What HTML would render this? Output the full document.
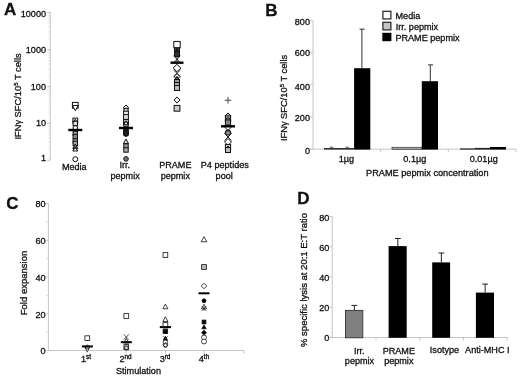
<!DOCTYPE html>
<html><head><meta charset="utf-8"><title>Figure</title>
<style>
html,body{margin:0;padding:0;background:#fff;}
svg{display:block;font-family:"Liberation Sans",sans-serif;fill:#111;}
text{stroke:#111;stroke-width:0.3px;}
</style></head><body>
<svg width="520" height="376" viewBox="0 0 520 376">
<rect x="0" y="0" width="520" height="376" fill="#fff"/>
<text x="4" y="15" font-size="17" text-anchor="start" font-weight="bold" >A</text>
<line x1="50.2" y1="11.7" x2="50.2" y2="160" stroke="#c6c6c6" stroke-width="1"/>
<line x1="47.2" y1="160.2" x2="50.2" y2="160.2" stroke="#c6c6c6" stroke-width="1"/>
<text x="46" y="160.55" font-size="9.1" text-anchor="end" font-weight="normal" >1</text>
<line x1="48.400000000000006" y1="149.09199315999908" x2="50.2" y2="149.09199315999908" stroke="#d4d4d4" stroke-width="0.7"/>
<line x1="48.400000000000006" y1="142.59422570084445" x2="50.2" y2="142.59422570084445" stroke="#d4d4d4" stroke-width="0.7"/>
<line x1="48.400000000000006" y1="137.98398631999817" x2="50.2" y2="137.98398631999817" stroke="#d4d4d4" stroke-width="0.7"/>
<line x1="48.400000000000006" y1="134.4080068400009" x2="50.2" y2="134.4080068400009" stroke="#d4d4d4" stroke-width="0.7"/>
<line x1="48.400000000000006" y1="131.48621886084354" x2="50.2" y2="131.48621886084354" stroke="#d4d4d4" stroke-width="0.7"/>
<line x1="48.400000000000006" y1="129.0158823234739" x2="50.2" y2="129.0158823234739" stroke="#d4d4d4" stroke-width="0.7"/>
<line x1="48.400000000000006" y1="126.87597947999728" x2="50.2" y2="126.87597947999728" stroke="#d4d4d4" stroke-width="0.7"/>
<line x1="48.400000000000006" y1="124.9884514016889" x2="50.2" y2="124.9884514016889" stroke="#d4d4d4" stroke-width="0.7"/>
<line x1="47.2" y1="123.29999999999998" x2="50.2" y2="123.29999999999998" stroke="#c6c6c6" stroke-width="1"/>
<text x="46" y="125.55" font-size="9.1" text-anchor="end" font-weight="normal" >10</text>
<line x1="48.400000000000006" y1="112.19199315999907" x2="50.2" y2="112.19199315999907" stroke="#d4d4d4" stroke-width="0.7"/>
<line x1="48.400000000000006" y1="105.69422570084444" x2="50.2" y2="105.69422570084444" stroke="#d4d4d4" stroke-width="0.7"/>
<line x1="48.400000000000006" y1="101.08398631999817" x2="50.2" y2="101.08398631999817" stroke="#d4d4d4" stroke-width="0.7"/>
<line x1="48.400000000000006" y1="97.50800684000089" x2="50.2" y2="97.50800684000089" stroke="#d4d4d4" stroke-width="0.7"/>
<line x1="48.400000000000006" y1="94.58621886084353" x2="50.2" y2="94.58621886084353" stroke="#d4d4d4" stroke-width="0.7"/>
<line x1="48.400000000000006" y1="92.11588232347391" x2="50.2" y2="92.11588232347391" stroke="#d4d4d4" stroke-width="0.7"/>
<line x1="48.400000000000006" y1="89.97597947999728" x2="50.2" y2="89.97597947999728" stroke="#d4d4d4" stroke-width="0.7"/>
<line x1="48.400000000000006" y1="88.0884514016889" x2="50.2" y2="88.0884514016889" stroke="#d4d4d4" stroke-width="0.7"/>
<line x1="47.2" y1="86.39999999999999" x2="50.2" y2="86.39999999999999" stroke="#c6c6c6" stroke-width="1"/>
<text x="46" y="89.85" font-size="9.1" text-anchor="end" font-weight="normal" >100</text>
<line x1="48.400000000000006" y1="75.29199315999908" x2="50.2" y2="75.29199315999908" stroke="#d4d4d4" stroke-width="0.7"/>
<line x1="48.400000000000006" y1="68.79422570084445" x2="50.2" y2="68.79422570084445" stroke="#d4d4d4" stroke-width="0.7"/>
<line x1="48.400000000000006" y1="64.18398631999818" x2="50.2" y2="64.18398631999818" stroke="#d4d4d4" stroke-width="0.7"/>
<line x1="48.400000000000006" y1="60.6080068400009" x2="50.2" y2="60.6080068400009" stroke="#d4d4d4" stroke-width="0.7"/>
<line x1="48.400000000000006" y1="57.68621886084354" x2="50.2" y2="57.68621886084354" stroke="#d4d4d4" stroke-width="0.7"/>
<line x1="48.400000000000006" y1="55.21588232347392" x2="50.2" y2="55.21588232347392" stroke="#d4d4d4" stroke-width="0.7"/>
<line x1="48.400000000000006" y1="53.07597947999728" x2="50.2" y2="53.07597947999728" stroke="#d4d4d4" stroke-width="0.7"/>
<line x1="48.400000000000006" y1="51.18845140168891" x2="50.2" y2="51.18845140168891" stroke="#d4d4d4" stroke-width="0.7"/>
<line x1="47.2" y1="49.5" x2="50.2" y2="49.5" stroke="#c6c6c6" stroke-width="1"/>
<text x="46" y="52.65" font-size="9.1" text-anchor="end" font-weight="normal" >1000</text>
<line x1="48.400000000000006" y1="38.391993159999096" x2="50.2" y2="38.391993159999096" stroke="#d4d4d4" stroke-width="0.7"/>
<line x1="48.400000000000006" y1="31.89422570084446" x2="50.2" y2="31.89422570084446" stroke="#d4d4d4" stroke-width="0.7"/>
<line x1="48.400000000000006" y1="27.28398631999819" x2="50.2" y2="27.28398631999819" stroke="#d4d4d4" stroke-width="0.7"/>
<line x1="48.400000000000006" y1="23.708006840000905" x2="50.2" y2="23.708006840000905" stroke="#d4d4d4" stroke-width="0.7"/>
<line x1="48.400000000000006" y1="20.78621886084355" x2="50.2" y2="20.78621886084355" stroke="#d4d4d4" stroke-width="0.7"/>
<line x1="48.400000000000006" y1="18.315882323473925" x2="50.2" y2="18.315882323473925" stroke="#d4d4d4" stroke-width="0.7"/>
<line x1="48.400000000000006" y1="16.175979479997288" x2="50.2" y2="16.175979479997288" stroke="#d4d4d4" stroke-width="0.7"/>
<line x1="48.400000000000006" y1="14.288451401688917" x2="50.2" y2="14.288451401688917" stroke="#d4d4d4" stroke-width="0.7"/>
<line x1="47.2" y1="12.599999999999994" x2="50.2" y2="12.599999999999994" stroke="#c6c6c6" stroke-width="1"/>
<text x="46" y="17.35" font-size="9.1" text-anchor="end" font-weight="normal" >10000</text>
<text transform="translate(20.5,96.5) rotate(-90)" font-size="9.3" text-anchor="middle">IFNγ SFC/10<tspan font-size="6" dy="-3">5</tspan><tspan dy="3"> T cells</tspan></text>
<rect x="72.42" y="102.42" width="5.76" height="5.76" fill="#fff" stroke="#111" stroke-width="1.0"/>
<polygon points="75.3,110.67999999999999 78.17999999999999,105.496 72.42,105.496" fill="#fff" stroke="#111" stroke-width="1.0"/>
<rect x="72.89999999999999" y="118.1" width="4.8" height="4.8" fill="#e8e8e8" stroke="#111" stroke-width="1.0"/>
<polygon points="75.3,119.292 77.508,123.2664 73.092,123.2664" fill="#fff" stroke="#111" stroke-width="1.0"/>
<rect x="73.092" y="121.292" width="4.4159999999999995" height="4.4159999999999995" fill="#ddd" stroke="#111" stroke-width="1.0"/>
<circle cx="75.3" cy="128" r="2.304" fill="#fff" stroke="#111" stroke-width="1.0"/>
<rect x="73.092" y="131.292" width="4.4159999999999995" height="4.4159999999999995" fill="#999" stroke="#111" stroke-width="1.0"/>
<rect x="73.092" y="134.292" width="4.4159999999999995" height="4.4159999999999995" fill="#888" stroke="#111" stroke-width="1.0"/>
<rect x="73.092" y="138.792" width="4.4159999999999995" height="4.4159999999999995" fill="#999" stroke="#111" stroke-width="1.0"/>
<rect x="73.092" y="141.292" width="4.4159999999999995" height="4.4159999999999995" fill="#aaa" stroke="#111" stroke-width="1.0"/>
<polygon points="75.3,144.004 77.79599999999999,148.4968 72.804,148.4968" fill="#ddd" stroke="#111" stroke-width="1.0"/>
<polygon points="75.3,146.504 77.79599999999999,150.9968 72.804,150.9968" fill="#fff" stroke="#111" stroke-width="1.0"/>
<path d="M73.38,146.08L77.22,149.92M73.38,149.92L77.22,146.08" stroke="#222" stroke-width="1.0" fill="none"/>
<circle cx="75.3" cy="159.2" r="2.496" fill="#fff" stroke="#111" stroke-width="1.0"/>
<line x1="68.3" y1="130" x2="82.3" y2="130" stroke="#000" stroke-width="2.4"/>
<polygon points="126,105.012 128.688,107.7 126,110.388 123.312,107.7" fill="#ddd" stroke="#111" stroke-width="1.0"/>
<rect x="123.888" y="108.388" width="4.224" height="4.224" fill="#ccc" stroke="#111" stroke-width="1.0"/>
<rect x="123.6" y="111.19999999999999" width="4.8" height="4.8" fill="#eee" stroke="#111" stroke-width="1.0"/>
<rect x="123.6" y="114.6" width="4.8" height="4.8" fill="#ddd" stroke="#111" stroke-width="1.0"/>
<rect x="123.6" y="119.6" width="4.8" height="4.8" fill="#ccc" stroke="#111" stroke-width="1.0"/>
<rect x="123.792" y="122.292" width="4.4159999999999995" height="4.4159999999999995" fill="#bbb" stroke="#111" stroke-width="1.0"/>
<polygon points="126,120.888 128.112,124.6896 123.888,124.6896" fill="#fff" stroke="#111" stroke-width="1.0"/>
<rect x="123.696" y="129.196" width="4.608" height="4.608" fill="#222" stroke="#111" stroke-width="1.0"/>
<circle cx="126" cy="134" r="2.4" fill="#111" stroke="#111" stroke-width="1.0"/>
<rect x="123.888" y="130.888" width="4.224" height="4.224" fill="#222" stroke="#111" stroke-width="1.0"/>
<polygon points="126,139.004 128.496,143.4968 123.504,143.4968" fill="#ddd" stroke="#111" stroke-width="1.0"/>
<rect x="123.792" y="143.792" width="4.4159999999999995" height="4.4159999999999995" fill="#999" stroke="#111" stroke-width="1.0"/>
<rect x="123.792" y="147.792" width="4.4159999999999995" height="4.4159999999999995" fill="#aaa" stroke="#111" stroke-width="1.0"/>
<circle cx="126" cy="158.9" r="2.304" fill="#777" stroke="#111" stroke-width="1.0"/>
<line x1="119" y1="128" x2="133" y2="128" stroke="#000" stroke-width="2.4"/>
<rect x="173.832" y="41.432" width="6.335999999999999" height="6.335999999999999" fill="#fff" stroke="#111" stroke-width="1.0"/>
<rect x="174.504" y="48.004" width="4.992" height="4.992" fill="#555" stroke="#111" stroke-width="1.0"/>
<polygon points="177,48.504 179.496,52.9968 174.504,52.9968" fill="#333" stroke="#111" stroke-width="1.0"/>
<rect x="174.504" y="51.504" width="4.992" height="4.992" fill="#333" stroke="#111" stroke-width="1.0"/>
<path d="M173.544,55.843999999999994L180.456,62.756M173.544,62.756L180.456,55.843999999999994M177,55.843999999999994L177,62.756" stroke="#222" stroke-width="1.0" fill="none"/>
<polygon points="177,64.256 180.744,68 177,71.744 173.256,68" fill="#fff" stroke="#111" stroke-width="1.0"/>
<path d="M173.544,69.844L180.456,76.756M173.544,76.756L180.456,69.844" stroke="#222" stroke-width="1.0" fill="none"/>
<polygon points="177,73.62 179.88,76.5 177,79.38 174.12,76.5" fill="#eee" stroke="#111" stroke-width="1.0"/>
<polygon points="177,76.408 179.592,81.0736 174.408,81.0736" fill="#888" stroke="#111" stroke-width="1.0"/>
<circle cx="177" cy="80" r="2.304" fill="#777" stroke="#111" stroke-width="1.0"/>
<rect x="174.504" y="79.504" width="4.992" height="4.992" fill="#999" stroke="#111" stroke-width="1.0"/>
<rect x="174.504" y="82.504" width="4.992" height="4.992" fill="#aaa" stroke="#111" stroke-width="1.0"/>
<rect x="174.504" y="85.504" width="4.992" height="4.992" fill="#bbb" stroke="#111" stroke-width="1.0"/>
<polygon points="177,96.928 180.072,100 177,103.072 173.928,100" fill="#eee" stroke="#111" stroke-width="1.0"/>
<rect x="174.12" y="105.42" width="5.76" height="5.76" fill="#ccc" stroke="#111" stroke-width="1.0"/>
<line x1="170.5" y1="62.7" x2="183.5" y2="62.7" stroke="#000" stroke-width="2.4"/>
<path d="M224.64,100.2L231.36,100.2M228,96.84L228,103.56" stroke="#444" stroke-width="1.0" fill="none"/>
<polygon points="228,112.928 231.072,116 228,119.072 224.928,116" fill="#bbb" stroke="#111" stroke-width="1.0"/>
<rect x="225.408" y="115.908" width="5.184" height="5.184" fill="#aaa" stroke="#111" stroke-width="1.0"/>
<circle cx="228" cy="120.5" r="2.592" fill="#999" stroke="#111" stroke-width="1.0"/>
<rect x="225.408" y="119.908" width="5.184" height="5.184" fill="#888" stroke="#111" stroke-width="1.0"/>
<circle cx="228" cy="132.5" r="2.6879999999999997" fill="#999" stroke="#111" stroke-width="1.0"/>
<path d="M224.544,127.044L231.456,133.956M224.544,133.956L231.456,127.044" stroke="#222" stroke-width="1.0" fill="none"/>
<path d="M224.544,133.544L231.456,140.456M224.544,140.456L231.456,133.544" stroke="#222" stroke-width="1.0" fill="none"/>
<polygon points="228,138.544 231.456,142 228,145.456 224.544,142" fill="#fff" stroke="#111" stroke-width="1.0"/>
<rect x="225.408" y="144.408" width="5.184" height="5.184" fill="#ccc" stroke="#111" stroke-width="1.0"/>
<polygon points="228,145.908 230.592,150.5736 225.408,150.5736" fill="#ddd" stroke="#111" stroke-width="1.0"/>
<rect x="225.504" y="147.504" width="4.992" height="4.992" fill="#bbb" stroke="#111" stroke-width="1.0"/>
<line x1="221" y1="126.3" x2="235" y2="126.3" stroke="#000" stroke-width="2.4"/>
<text x="74.3" y="169.7" font-size="9.1" text-anchor="middle" font-weight="normal" >Media</text>
<text x="124.8" y="168" font-size="9.1" text-anchor="middle" font-weight="normal" >Irr.</text>
<text x="125.1" y="178.9" font-size="9.1" text-anchor="middle" font-weight="normal" >pepmix</text>
<text x="175.3" y="167.5" font-size="9.1" text-anchor="middle" font-weight="normal" >PRAME</text>
<text x="175.3" y="178.9" font-size="9.1" text-anchor="middle" font-weight="normal" >pepmix</text>
<text x="224.8" y="167.5" font-size="9.1" text-anchor="middle" font-weight="normal" >P4 peptides</text>
<text x="224.2" y="178.9" font-size="9.1" text-anchor="middle" font-weight="normal" >pool</text>
<text x="265.2" y="16.4" font-size="17" text-anchor="start" font-weight="bold" >B</text>
<line x1="313" y1="20.5" x2="313" y2="149.2" stroke="#c6c6c6" stroke-width="1"/>
<line x1="310" y1="149.2" x2="516" y2="149.2" stroke="#c6c6c6" stroke-width="1"/>
<line x1="310" y1="149.2" x2="313" y2="149.2" stroke="#c6c6c6" stroke-width="1"/>
<text x="310" y="154.25" font-size="9.1" text-anchor="end" font-weight="normal" >0</text>
<line x1="310" y1="116.99999999999999" x2="313" y2="116.99999999999999" stroke="#c6c6c6" stroke-width="1"/>
<text x="310" y="121.25" font-size="9.1" text-anchor="end" font-weight="normal" >200</text>
<line x1="310" y1="84.79999999999998" x2="313" y2="84.79999999999998" stroke="#c6c6c6" stroke-width="1"/>
<text x="310" y="90.25" font-size="9.1" text-anchor="end" font-weight="normal" >400</text>
<line x1="310" y1="52.59999999999998" x2="313" y2="52.59999999999998" stroke="#c6c6c6" stroke-width="1"/>
<text x="310" y="56.05" font-size="9.1" text-anchor="end" font-weight="normal" >600</text>
<line x1="310" y1="20.399999999999977" x2="313" y2="20.399999999999977" stroke="#c6c6c6" stroke-width="1"/>
<text x="310" y="25.45" font-size="9.1" text-anchor="end" font-weight="normal" >800</text>
<line x1="380.7" y1="149.2" x2="380.7" y2="152.2" stroke="#c6c6c6" stroke-width="1"/>
<line x1="448.3" y1="149.2" x2="448.3" y2="152.2" stroke="#c6c6c6" stroke-width="1"/>
<line x1="516" y1="149.2" x2="516" y2="152.2" stroke="#c6c6c6" stroke-width="1"/>
<text transform="translate(286.5,98) rotate(-90)" font-size="9.3" text-anchor="middle">IFNγ SFC/10<tspan font-size="6" dy="-3">5</tspan><tspan dy="3"> T cells</tspan></text>
<rect x="382.9" y="11.3" width="8.0" height="7.6" fill="#fff" stroke="#222" stroke-width="1.2"/>
<rect x="382.9" y="22.3" width="8.0" height="7.6" fill="#c4c4c4" stroke="#222" stroke-width="1.2"/>
<rect x="382.3" y="32.8" width="9.1" height="8.4" fill="#000" stroke="none" stroke-width="1"/>
<text x="395.5" y="19" font-size="9.1" text-anchor="start" font-weight="normal" >Media</text>
<text x="395.7" y="30" font-size="9.1" text-anchor="start" font-weight="normal" >Irr. pepmix</text>
<text x="395.4" y="40.9" font-size="9.1" text-anchor="start" font-weight="normal" >PRAME pepmix</text>
<rect x="324" y="148" width="30" height="1.6" fill="#333" stroke="none" stroke-width="1"/>
<line x1="331.5" y1="147" x2="331.5" y2="148" stroke="#333" stroke-width="1"/>
<line x1="347.3" y1="147" x2="347.3" y2="148" stroke="#333" stroke-width="1"/>
<line x1="329.5" y1="147.2" x2="333.5" y2="147.2" stroke="#555" stroke-width="0.8"/>
<line x1="345.3" y1="147.2" x2="349.3" y2="147.2" stroke="#555" stroke-width="0.8"/>
<rect x="354.1" y="68.2" width="16.2" height="81.4" fill="#000" stroke="none" stroke-width="1"/>
<line x1="361.9" y1="28.9" x2="361.9" y2="68.2" stroke="#333" stroke-width="1"/>
<line x1="359.6" y1="29.2" x2="364.6" y2="29.2" stroke="#333" stroke-width="1"/>
<rect x="392" y="147.3" width="30" height="2" fill="#aaa" stroke="#333" stroke-width="0.7"/>
<rect x="421.8" y="81.2" width="16.2" height="68.4" fill="#000" stroke="none" stroke-width="1"/>
<line x1="430.3" y1="64.6" x2="430.3" y2="81.2" stroke="#333" stroke-width="1"/>
<line x1="428" y1="64.9" x2="433" y2="64.9" stroke="#333" stroke-width="1"/>
<rect x="460" y="148.4" width="15" height="1.2" fill="#222" stroke="none" stroke-width="1"/>
<rect x="475" y="147.9" width="15" height="1.7" fill="#222" stroke="none" stroke-width="1"/>
<rect x="490" y="147" width="16" height="2.6" fill="#000" stroke="none" stroke-width="1"/>
<text x="346.5" y="162.1" font-size="9.1" text-anchor="middle" font-weight="normal" >1µg</text>
<text x="414.8" y="162.1" font-size="9.1" text-anchor="middle" font-weight="normal" >0.1µg</text>
<text x="483.7" y="162.1" font-size="9.1" text-anchor="middle" font-weight="normal" >0.01µg</text>
<text x="427.3" y="176.1" font-size="9.2" text-anchor="middle" font-weight="normal" >PRAME pepmix concentration</text>
<text x="6.2" y="208.7" font-size="17" text-anchor="start" font-weight="bold" >C</text>
<line x1="48.4" y1="203.1" x2="48.4" y2="350.5" stroke="#c6c6c6" stroke-width="1"/>
<line x1="45.4" y1="350.5" x2="244" y2="350.5" stroke="#c6c6c6" stroke-width="1"/>
<line x1="45.4" y1="350.5" x2="48.4" y2="350.5" stroke="#c6c6c6" stroke-width="1"/>
<text x="45.6" y="354.35" font-size="9.1" text-anchor="end" font-weight="normal" >0</text>
<line x1="46.4" y1="332.125" x2="48.4" y2="332.125" stroke="#d4d4d4" stroke-width="1"/>
<line x1="45.4" y1="313.75" x2="48.4" y2="313.75" stroke="#c6c6c6" stroke-width="1"/>
<text x="45.6" y="317.6" font-size="9.1" text-anchor="end" font-weight="normal" >20</text>
<line x1="46.4" y1="295.375" x2="48.4" y2="295.375" stroke="#d4d4d4" stroke-width="1"/>
<line x1="45.4" y1="277.0" x2="48.4" y2="277.0" stroke="#c6c6c6" stroke-width="1"/>
<text x="45.6" y="280.85" font-size="9.1" text-anchor="end" font-weight="normal" >40</text>
<line x1="46.4" y1="258.625" x2="48.4" y2="258.625" stroke="#d4d4d4" stroke-width="1"/>
<line x1="45.4" y1="240.25" x2="48.4" y2="240.25" stroke="#c6c6c6" stroke-width="1"/>
<text x="45.6" y="244.1" font-size="9.1" text-anchor="end" font-weight="normal" >60</text>
<line x1="46.4" y1="221.875" x2="48.4" y2="221.875" stroke="#d4d4d4" stroke-width="1"/>
<line x1="45.4" y1="203.5" x2="48.4" y2="203.5" stroke="#c6c6c6" stroke-width="1"/>
<text x="45.6" y="207.35" font-size="9.1" text-anchor="end" font-weight="normal" >80</text>
<line x1="87" y1="350.5" x2="87" y2="353.5" stroke="#c6c6c6" stroke-width="1"/>
<line x1="126" y1="350.5" x2="126" y2="353.5" stroke="#c6c6c6" stroke-width="1"/>
<line x1="165.5" y1="350.5" x2="165.5" y2="353.5" stroke="#c6c6c6" stroke-width="1"/>
<line x1="204" y1="350.5" x2="204" y2="353.5" stroke="#c6c6c6" stroke-width="1"/>
<line x1="244" y1="350.5" x2="244" y2="353.5" stroke="#c6c6c6" stroke-width="1"/>
<text transform="translate(26.5,283) rotate(-90)" font-size="9.5" text-anchor="middle">Fold expansion</text>
<rect x="84.925" y="335.825" width="4.75" height="4.75" fill="#fff" stroke="#111" stroke-width="0.8"/>
<polygon points="87.3,351.66 89.96,346.872 84.64,346.872" fill="#fff" stroke="#111" stroke-width="0.8"/>
<line x1="81.8" y1="346.4" x2="92.8" y2="346.4" stroke="#000" stroke-width="2.0"/>
<circle cx="87.3" cy="347" r="1.9" fill="none" stroke="#111" stroke-width="0.8"/>
<rect x="123.925" y="313.625" width="4.75" height="4.75" fill="#fff" stroke="#111" stroke-width="0.8"/>
<path d="M123.64,334.34L128.96,339.66M123.64,339.66L128.96,334.34" stroke="#222" stroke-width="0.8" fill="none"/>
<polygon points="126.3,338.435 128.865,343.052 123.735,343.052" fill="#fff" stroke="#111" stroke-width="0.8"/>
<rect x="123.925" y="344.625" width="4.75" height="4.75" fill="#ccc" stroke="#111" stroke-width="0.8"/>
<circle cx="126.3" cy="348" r="2.09" fill="none" stroke="#111" stroke-width="0.8"/>
<line x1="120.8" y1="342.2" x2="131.8" y2="342.2" stroke="#000" stroke-width="2.0"/>
<rect x="163.025" y="252.625" width="4.75" height="4.75" fill="#fff" stroke="#111" stroke-width="0.8"/>
<polygon points="165.4,304.135 167.965,308.752 162.835,308.752" fill="#fff" stroke="#111" stroke-width="0.8"/>
<polygon points="165.4,316.835 167.965,321.452 162.835,321.452" fill="#fff" stroke="#111" stroke-width="0.8"/>
<rect x="163.025" y="322.625" width="4.75" height="4.75" fill="#fff" stroke="#111" stroke-width="0.8"/>
<rect x="163.12" y="329.02000000000004" width="4.56" height="4.56" fill="#000" stroke="#111" stroke-width="0.8"/>
<rect x="164.64000000000001" y="329.24" width="1.52" height="1.52" fill="#fff" stroke="#111" stroke-width="0.8"/>
<polygon points="165.4,336.31 167.49,340.072 163.31,340.072" fill="#000" stroke="#111" stroke-width="0.8"/>
<path d="M163.12,336.32000000000005L167.68,340.88M163.12,340.88L167.68,336.32000000000005M165.4,336.32000000000005L165.4,340.88" stroke="#222" stroke-width="0.8" fill="none"/>
<circle cx="165.4" cy="342.4" r="2.28" fill="#fff" stroke="#111" stroke-width="0.8"/>
<polygon points="165.4,342.33 167.87,344.8 165.4,347.27000000000004 162.93,344.8" fill="#fff" stroke="#111" stroke-width="0.8"/>
<circle cx="165.4" cy="345.5" r="1.9" fill="none" stroke="#111" stroke-width="0.8"/>
<line x1="159.8" y1="327.1" x2="171.0" y2="327.1" stroke="#000" stroke-width="2.0"/>
<polygon points="204,236.65 206.85,241.78 201.15,241.78" fill="#fff" stroke="#111" stroke-width="0.8"/>
<rect x="201.625" y="264.625" width="4.75" height="4.75" fill="#bbb" stroke="#111" stroke-width="0.8"/>
<polygon points="204,283.245 206.755,286 204,288.755 201.245,286" fill="#fff" stroke="#111" stroke-width="0.8"/>
<line x1="198.5" y1="293.3" x2="209.5" y2="293.3" stroke="#000" stroke-width="2.0"/>
<circle cx="204" cy="300.8" r="1.9949999999999999" fill="#000" stroke="#111" stroke-width="0.8"/>
<polygon points="204,304.235 206.565,308.85200000000003 201.435,308.85200000000003" fill="#fff" stroke="#111" stroke-width="0.8"/>
<path d="M201.72,306.22L206.28,310.78M201.72,310.78L206.28,306.22M204,306.22L204,310.78" stroke="#222" stroke-width="0.8" fill="none"/>
<rect x="202.1" y="320.1" width="3.8" height="3.8" fill="#000" stroke="#111" stroke-width="0.8"/>
<polygon points="204,324.915 206.185,328.848 201.815,328.848" fill="#000" stroke="#111" stroke-width="0.8"/>
<polygon points="204,330.22999999999996 206.47,332.7 204,335.17 201.53,332.7" fill="#000" stroke="#111" stroke-width="0.8"/>
<circle cx="204" cy="337.5" r="2.4699999999999998" fill="#fff" stroke="#111" stroke-width="0.8"/>
<circle cx="204" cy="341.5" r="2.4699999999999998" fill="#fff" stroke="#111" stroke-width="0.8"/>
<text x="86" y="362.2" font-size="9.1" text-anchor="middle">1<tspan font-size="6.4" dy="-3.3">st</tspan></text>
<text x="125.5" y="362.2" font-size="9.1" text-anchor="middle">2<tspan font-size="6.4" dy="-3.3">nd</tspan></text>
<text x="165" y="362.2" font-size="9.1" text-anchor="middle">3<tspan font-size="6.4" dy="-3.3">rd</tspan></text>
<text x="204" y="362.2" font-size="9.1" text-anchor="middle">4<tspan font-size="6.4" dy="-3.3">th</tspan></text>
<text x="138.5" y="374" font-size="9.1" text-anchor="middle" font-weight="normal" >Stimulation</text>
<text x="297.2" y="203.5" font-size="17" text-anchor="start" font-weight="bold" >D</text>
<line x1="332.2" y1="216" x2="332.2" y2="337.5" stroke="#c6c6c6" stroke-width="1"/>
<line x1="329.2" y1="337.5" x2="507.3" y2="337.5" stroke="#c6c6c6" stroke-width="1"/>
<line x1="329.2" y1="337.5" x2="332.2" y2="337.5" stroke="#c6c6c6" stroke-width="1"/>
<text x="329.4" y="340.95" font-size="9.1" text-anchor="end" font-weight="normal" >0</text>
<line x1="329.2" y1="307.25" x2="332.2" y2="307.25" stroke="#c6c6c6" stroke-width="1"/>
<text x="329.4" y="310.95" font-size="9.1" text-anchor="end" font-weight="normal" >20</text>
<line x1="329.2" y1="277.0" x2="332.2" y2="277.0" stroke="#c6c6c6" stroke-width="1"/>
<text x="329.4" y="280.95" font-size="9.1" text-anchor="end" font-weight="normal" >40</text>
<line x1="329.2" y1="246.75" x2="332.2" y2="246.75" stroke="#c6c6c6" stroke-width="1"/>
<text x="329.4" y="250.95" font-size="9.1" text-anchor="end" font-weight="normal" >60</text>
<line x1="329.2" y1="216.5" x2="332.2" y2="216.5" stroke="#c6c6c6" stroke-width="1"/>
<text x="329.4" y="220.95" font-size="9.1" text-anchor="end" font-weight="normal" >80</text>
<line x1="376" y1="337.5" x2="376" y2="340.5" stroke="#c6c6c6" stroke-width="1"/>
<line x1="419.7" y1="337.5" x2="419.7" y2="340.5" stroke="#c6c6c6" stroke-width="1"/>
<line x1="463.5" y1="337.5" x2="463.5" y2="340.5" stroke="#c6c6c6" stroke-width="1"/>
<line x1="507.3" y1="337.5" x2="507.3" y2="340.5" stroke="#c6c6c6" stroke-width="1"/>
<text transform="translate(306.5,280) rotate(-90)" font-size="9.5" text-anchor="middle">% specific lysis at 20:1 E:T ratio</text>
<rect x="345.5" y="310.4" width="17.30000000000001" height="27.400000000000034" fill="#808080" stroke="#333" stroke-width="0.9"/>
<line x1="354.34999999999997" y1="305.1" x2="354.34999999999997" y2="310.4" stroke="#222" stroke-width="1"/>
<line x1="351.45" y1="305.40000000000003" x2="357.24999999999994" y2="305.40000000000003" stroke="#222" stroke-width="1"/>
<rect x="388.6" y="246.1" width="18.099999999999966" height="91.70000000000002" fill="#000" stroke="none" stroke-width="0.9"/>
<line x1="397.84999999999997" y1="238.2" x2="397.84999999999997" y2="246.1" stroke="#222" stroke-width="1"/>
<line x1="394.95" y1="238.5" x2="400.74999999999994" y2="238.5" stroke="#222" stroke-width="1"/>
<rect x="432.2" y="262.4" width="17.900000000000034" height="75.40000000000003" fill="#000" stroke="none" stroke-width="0.9"/>
<line x1="441.34999999999997" y1="252.7" x2="441.34999999999997" y2="262.4" stroke="#222" stroke-width="1"/>
<line x1="438.45" y1="253.0" x2="444.24999999999994" y2="253.0" stroke="#222" stroke-width="1"/>
<rect x="475.9" y="292.6" width="18.100000000000023" height="45.19999999999999" fill="#000" stroke="none" stroke-width="0.9"/>
<line x1="485.15" y1="283.8" x2="485.15" y2="292.6" stroke="#222" stroke-width="1"/>
<line x1="482.25" y1="284.1" x2="488.04999999999995" y2="284.1" stroke="#222" stroke-width="1"/>
<text x="359.3" y="353.5" font-size="9.1" text-anchor="middle" font-weight="normal" >Irr.</text>
<text x="359.5" y="364" font-size="9.1" text-anchor="middle" font-weight="normal" >pepmix</text>
<text x="398.8" y="353.5" font-size="9.1" text-anchor="middle" font-weight="normal" >PRAME</text>
<text x="398.8" y="364" font-size="9.1" text-anchor="middle" font-weight="normal" >pepmix</text>
<text x="444.5" y="353" font-size="9.1" text-anchor="middle" font-weight="normal" >Isotype</text>
<text x="487.3" y="352.5" font-size="9.1" text-anchor="middle" font-weight="normal" >Anti-MHC I</text>
</svg>
</body></html>
